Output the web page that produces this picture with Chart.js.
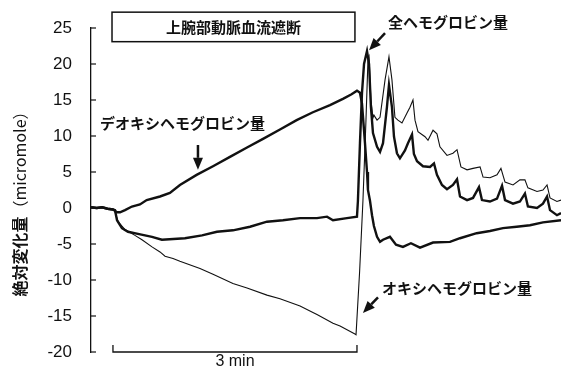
<!DOCTYPE html>
<html>
<head>
<meta charset="utf-8">
<title>上腕部動脈血流遮断</title>
<script src="https://cdn.jsdelivr.net/npm/chart.js"></script>
<style>
  html, body { margin: 0; padding: 0; background: #fff; }
</style>
</head>
<body>
<canvas id="hbChart" width="562" height="370"></canvas>
<script>
// time in seconds from the start of the occlusion, values in micromole
const deoxyTime = [-16.2, -12, -8, -4, 0, 1.5, 3.0, 5.2, 8.9, 14.0,
  19.9, 24.9, 34.7, 42.0, 49.4, 61.7, 73.8, 86.3, 98.9, 110.7,
  123.2, 135.5, 147.5, 160.1, 170.0, 176.0, 180.0, 182.2, 183.7, 185.9,
  187.4, 188.1, 189.6, 191.1, 192.5, 194.8, 197.0, 199.2, 204.3, 208.8,
  213.9, 219.8, 226.5, 236.1, 248.6, 256.0, 268.3, 278.1, 287.7, 297.8,
  307.6, 317.2, 330.5];
const deoxyValue = [0.1, 0.0, 0.1, -0.1, -0.2, -0.4, -0.6, -0.6, -0.3, 0.2,
  0.5, 1.1, 1.6, 2.1, 3.2, 4.6, 5.8, 7.1, 8.4, 9.6,
  10.9, 12.2, 13.3, 14.3, 15.2, 15.8, 16.3, 16.0, 14.5, 9.0,
  5.0, 2.5, 1.0, -1.0, -2.5, -4.0, -4.7, -4.4, -4.0, -5.1,
  -5.4, -4.9, -5.5, -4.8, -4.7, -4.2, -3.5, -3.2, -2.8, -2.6,
  -2.4, -2.0, -1.7];

const oxyTime = [-16.2, -12, -8, -4, 0, 1.5, 3.7, 8.9, 16.2, 21.4,
  28.8, 34.7, 38.4, 44.3, 49.4, 64.2, 73.8, 88.5, 98.9, 113.6,
  123.2, 138.0, 147.5, 150.5, 162.3, 167.5, 178.5, 179.3, 181.9, 184.4,
  186.6, 188.1, 188.9, 190.3, 191.8, 192.5, 194.8, 197.0, 200.7, 203.6,
  205.8, 208.0, 210.2, 213.2, 216.9, 219.1, 221.3, 222.8, 225.0, 230.2,
  232.4, 236.1, 239.0, 241.2, 246.4, 250.8, 253.8, 256.7, 261.2, 265.6,
  270.8, 273.0, 278.1, 283.3, 286.2, 289.2, 295.1, 300.2, 303.9, 306.1,
  312.8, 317.2, 320.2, 322.4, 327.5, 330.5];
const oxyValue = [0.1, 0.0, 0.1, -0.1, -0.2, -0.5, -1.9, -3.0, -3.8, -4.4,
  -5.4, -6.1, -6.7, -7.0, -7.4, -8.4, -9.2, -10.5, -11.1, -12.1,
  -12.6, -13.6, -14.5, -14.8, -16.0, -16.4, -17.5, -17.6, -9.0, 1.0,
  12.0, 20.5, 21.0, 15.0, 12.5, 12.9, 12.2, 12.6, 17.8, 21.0,
  17.8, 12.6, 12.2, 11.8, 13.2, 14.0, 15.0, 12.2, 10.6, 9.9,
  9.4, 10.8, 10.3, 8.5, 7.3, 7.6, 8.1, 5.7, 5.3, 5.5,
  5.7, 4.3, 4.2, 4.6, 5.5, 3.6, 3.2, 3.9, 3.9, 2.8,
  2.3, 2.5, 3.2, 1.4, 0.9, 1.1];

const totalTime = [-16.2, -12, -8, -4, 0, 1.5, 3.0, 6.6, 11.1, 18.4,
  28.8, 36.1, 53.1, 65.7, 76.7, 88.5, 101.1, 113.6, 125.4, 138.0,
  150.5, 157.9, 162.3, 172.6, 180.0, 180.7, 182.2, 183.7, 185.2, 187.4,
  188.9, 190.3, 191.8, 194.8, 197.0, 199.2, 202.1, 203.6, 205.8, 207.3,
  209.5, 211.7, 215.4, 217.6, 220.6, 222.0, 224.3, 228.7, 233.9, 236.8,
  239.0, 242.7, 246.4, 250.8, 253.8, 256.0, 261.2, 265.6, 270.0, 272.2,
  278.1, 283.3, 287.0, 289.2, 295.1, 300.2, 303.9, 306.1, 312.8, 317.2,
  320.2, 322.4, 327.5, 330.5];
const totalValue = [0.1, 0.0, 0.1, -0.1, -0.2, -0.3, -1.7, -2.8, -3.3, -3.6,
  -4.0, -4.4, -4.2, -3.8, -3.3, -3.1, -2.6, -1.9, -1.7, -1.4,
  -1.4, -1.2, -1.7, -1.4, -1.2, 1.0, 9.0, 16.0, 20.0, 21.8,
  20.0, 14.0, 10.4, 8.5, 7.8, 9.0, 14.0, 17.1, 14.0, 9.9,
  7.6, 6.9, 8.0, 9.0, 10.2, 7.5, 6.5, 5.8, 5.7, 6.2,
  4.6, 3.2, 2.6, 3.2, 4.0, 1.6, 1.1, 1.4, 2.9, 1.1,
  0.9, 1.3, 3.1, 1.1, 0.6, 0.9, 2.0, 0.2, 0.0, 0.6,
  1.6, -0.3, -1.0, -0.7];

const yTicks = [25, 20, 15, 10, 5, 0, -5, -10, -15, -20];
const occlusionStart = 0;
const occlusionEnd = 180;

const jpFont = "'Noto Sans CJK JP', sans-serif";
const latinFont = "'Liberation Sans', Arial, sans-serif";

function toPoints(times, values) {
    return times.map((t, i) => ({ x: t, y: values[i] }));
}

function drawArrow(ctx, x1, y1, x2, y2) {
    const ang = Math.atan2(y2 - y1, x2 - x1);
    const head = 12, half = 5;
    const c = Math.cos(ang), s = Math.sin(ang);
    ctx.beginPath();
    ctx.moveTo(x1, y1);
    ctx.lineTo(x2 - c * head, y2 - s * head);
    ctx.lineWidth = 2.5;
    ctx.stroke();
    ctx.beginPath();
    ctx.moveTo(x2, y2);
    ctx.lineTo(x2 - c * head + s * half, y2 - s * head - c * half);
    ctx.lineTo(x2 - c * head - s * half, y2 - s * head + c * half);
    ctx.closePath();
    ctx.fill();
}

// labels, arrows, title box, inner ticks and the 3 min bar
const annotations = {
    id: "annotations",
    afterDraw(chart) {
        const ctx = chart.ctx;
        const xs = chart.scales.x, ys = chart.scales.y;
        const px = (t) => xs.getPixelForValue(t);
        const py = (v) => ys.getPixelForValue(v);
        const area = chart.chartArea;
        ctx.save();
        ctx.strokeStyle = "#111";
        ctx.fillStyle = "#111";

        // tick marks on the inside of the y axis
        ctx.lineWidth = 1.2;
        yTicks.forEach((v) => {
            ctx.beginPath();
            ctx.moveTo(area.left, py(v));
            ctx.lineTo(area.left + 5, py(v));
            ctx.stroke();
        });

        // title box
        const bx1 = px(-0.7), bx2 = px(178.5);
        const by1 = py(27.2), by2 = py(23.1);
        ctx.lineWidth = 1.5;
        ctx.strokeRect(bx1, by1, bx2 - bx1, by2 - by1);
        ctx.font = "bold 15px " + jpFont;
        ctx.textAlign = "center";
        ctx.textBaseline = "middle";
        ctx.fillText("上腕部動脈血流遮断", (bx1 + bx2) / 2, (by1 + by2) / 2);

        // series labels
        ctx.textAlign = "left";
        ctx.fillText("全ヘモグロビン量", px(202.9), py(25.8));
        ctx.fillText("デオキシヘモグロビン量", px(-9.6), py(11.8));
        ctx.fillText("オキシヘモグロビン量", px(198.4), py(-11.1));

        drawArrow(ctx, px(200.7), py(24.3), px(188.9), py(21.9));
        drawArrow(ctx, px(62.7), py(8.75), px(62.7), py(5.3));
        drawArrow(ctx, px(195.5), py(-12.4), px(184.4), py(-14.6));

        // 3 min scale bar
        const sx1 = px(occlusionStart), sx2 = px(occlusionEnd), sy = area.bottom;
        ctx.lineWidth = 1.3;
        ctx.beginPath();
        ctx.moveTo(sx1, sy - 7);
        ctx.lineTo(sx1, sy);
        ctx.lineTo(sx2, sy);
        ctx.lineTo(sx2, sy - 7);
        ctx.stroke();
        ctx.font = "16px " + latinFont;
        ctx.textAlign = "center";
        ctx.fillText("3 min", (sx1 + sx2) / 2, sy + 10);

        // y axis title: bold Japanese + normal unit
        const part1 = "絶対変化量";
        const part2 = "（micromole）";
        ctx.font = "bold 16px " + jpFont;
        const w1 = ctx.measureText(part1).width;
        ctx.font = "16px " + jpFont;
        const w2 = ctx.measureText(part2).width;
        ctx.translate(20, (area.top + area.bottom) / 2 + 10);
        ctx.rotate(-Math.PI / 2);
        ctx.textAlign = "left";
        ctx.font = "bold 16px " + jpFont;
        ctx.fillText(part1, -(w1 + w2) / 2, 0);
        ctx.font = "16px " + jpFont;
        ctx.fillText(part2, -(w1 + w2) / 2 + w1, 0);
        ctx.restore();
    }
};

const ctx = document.getElementById("hbChart").getContext("2d");
new Chart(ctx, {
    type: "line",
    data: {
        datasets: [
            {
                label: "オキシヘモグロビン量",
                data: toPoints(oxyTime, oxyValue),
                borderColor: "#111",
                borderWidth: 1.1,
            },
            {
                label: "全ヘモグロビン量",
                data: toPoints(totalTime, totalValue),
                borderColor: "#111",
                borderWidth: 2.4,
            },
            {
                label: "デオキシヘモグロビン量",
                data: toPoints(deoxyTime, deoxyValue),
                borderColor: "#111",
                borderWidth: 2.4,
            },
        ],
    },
    options: {
        responsive: false,
        maintainAspectRatio: false,
        animation: false,
        devicePixelRatio: 1,
        layout: { autoPadding: false, padding: { left: 0, right: 1, top: 28, bottom: 18 } },
        elements: {
            point: { radius: 0 },
            line: { tension: 0, fill: false },
        },
        plugins: {
            legend: { display: false },
            tooltip: { enabled: false },
        },
        scales: {
            x: {
                type: "linear",
                min: -16.2,
                max: 330.5,
                display: false,
            },
            y: {
                min: -20,
                max: 25,
                afterFit(scale) { scale.width = 91; },
                afterBuildTicks(scale) { scale.ticks = yTicks.map((v) => ({ value: v })); },
                ticks: {
                    padding: 0,
                    color: "#111",
                    font: { family: "'Liberation Sans', Arial, sans-serif", size: 17 },
                },
                // transparent outer ticks only push the labels left
                grid: {
                    display: true,
                    drawOnChartArea: false,
                    drawTicks: true,
                    tickLength: 19,
                    tickColor: "rgba(0,0,0,0)",
                },
                border: { display: true, color: "#111", width: 1.3 },
            },
        },
    },
    plugins: [annotations],
});
</script>
</body>
</html>
